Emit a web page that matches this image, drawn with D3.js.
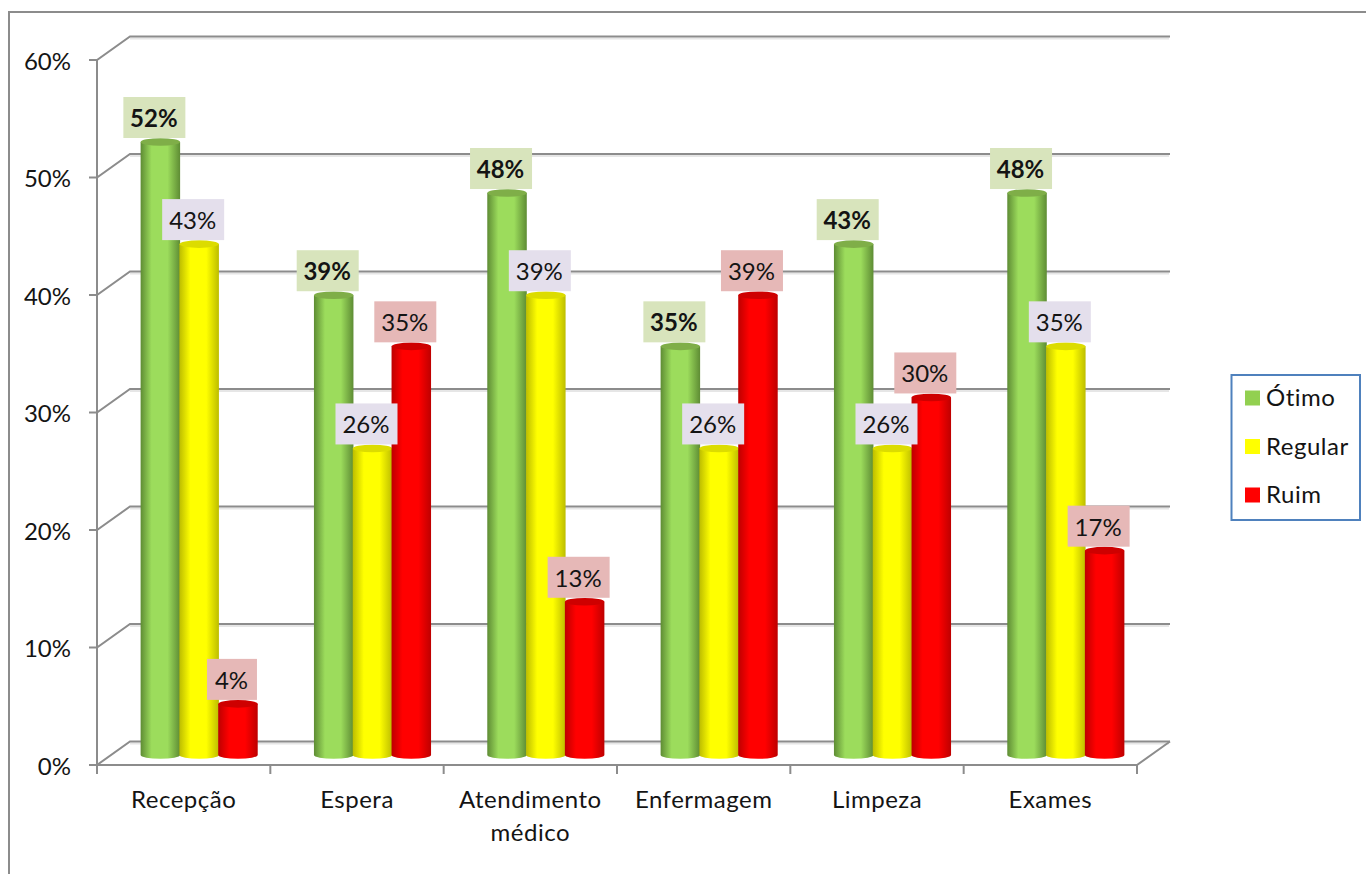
<!DOCTYPE html>
<html><head><meta charset="utf-8">
<script src="https://cdnjs.cloudflare.com/ajax/libs/d3/7.8.5/d3.min.js"></script>
<style>html,body{margin:0;padding:0;background:#fff}svg{display:block}text{font-family:Lato,"Open Sans",sans-serif;fill:#141414}</style>
</head><body><svg id="c" width="1366" height="874"></svg>
<script>
const categories = ["Recepção","Espera","Atendimento médico","Enfermagem","Limpeza","Exames"];
const seriesNames = ["Ótimo","Regular","Ruim"];
const otimo   = [52.17,39.13,47.83,34.78,43.48,47.83];
const regular = [43.48,26.09,39.13,26.09,26.09,34.78];
const ruim    = [4.35,34.78,13.04,39.13,30.43,17.39];
const yTicks  = [0,10,20,30,40,50,60];
const seriesValues = [otimo,regular,ruim];
const swatch = ["#92D050","#FFFF00","#FF0000"];
const edge   = ["#5E8C34","#BDBD00","#BE0000"];
const mid    = ["#9CDC5C","#FFFF00","#FF0000"];
const cap    = ["#7FAE48","#DCDC00","#CE0000"];
const boxFill= ["#D8E4BC","#E4DFEC","#E6B8B7"];

const svg = d3.select("#c");
const font = 24, gray = "#8c8c8c";
const x = d3.scaleBand().domain(categories).range([97,1137]);
const y = d3.scaleLinear().domain([0,60]).range([765,60]);
const dx = 33, dy = -23.5;
const barW = 39.5, ry = 3.8, barBase = 10, barShift = 15.5;

// frame
svg.append("path").attr("d","M9,874V12H1366").attr("fill","none").attr("stroke",gray).attr("stroke-width",2);

// defs
const defs = svg.append("defs");
seriesNames.forEach((s,i)=>{
  const g = defs.append("linearGradient").attr("id","g"+i);
  [[0,edge[i]],[.28,mid[i]],[.68,mid[i]],[1,edge[i]]].forEach(([o,c])=>g.append("stop").attr("offset",o).attr("stop-color",c));
});

// walls
yTicks.forEach(t=>{
  const yy = y(t);
  svg.append("line").attr("x1",x.range()[0]+dx).attr("x2",x.range()[1]+dx-1).attr("y1",yy+dy+2).attr("y2",yy+dy+2).attr("stroke","#e6e6e6").attr("stroke-width",2);
  svg.append("path").attr("d",d3.line()([[x.range()[0]-8,yy],[x.range()[0],yy],[x.range()[0]+dx,yy+dy],[x.range()[1]+dx,yy+dy]]))
    .attr("fill","none").attr("stroke",gray).attr("stroke-width",2);
  svg.append("text").attr("x",71).attr("y",yy+1.5).attr("dy","0.35em").attr("text-anchor","end").attr("font-size",font).text(t+"%");
});
// axes
svg.append("line").attr("x1",97).attr("x2",97).attr("y1",y(60)).attr("y2",773).attr("stroke",gray).attr("stroke-width",2);
svg.append("path").attr("d",d3.line()([[97,765],[1137,765],[1137+dx,765+dy]])).attr("fill","none").attr("stroke",gray).attr("stroke-width",2);
categories.concat(["end"]).forEach((c,i)=>{
  const xx = c==="end"? x.range()[1] : x(c);
  svg.append("line").attr("x1",xx).attr("x2",xx).attr("y1",765).attr("y2",774).attr("stroke",gray).attr("stroke-width",2);
});
// category labels
categories.forEach(c=>{
  const t = svg.append("text").attr("x",x(c)+x.bandwidth()/2).attr("y",808).attr("text-anchor","middle").attr("font-size",font).attr("letter-spacing",0.5);
  const parts = c==="Atendimento médico" ? c.split(" ") : [c];
  parts.forEach((p,i)=>t.append("tspan").attr("x",x(c)+x.bandwidth()/2).attr("dy",i?33:0).text(p));
});
// bars
const bx = (c,i)=>x(c)+x.bandwidth()/2+barShift+(i-1)*38.8;
const by = v=>y(v)-barBase;
const labels = svg.append("g");
categories.forEach((c,ci)=>{
  seriesValues.forEach((vals,si)=>{
    const v = vals[ci], cx = bx(c,si), top = by(v), bot = by(0), r = barW/2;
    svg.append("path").attr("fill",`url(#g${si})`)
      .attr("d",`M${cx-r},${top}V${bot}A${r},${ry} 0 0 0 ${cx+r},${bot}V${top}Z`);
    svg.append("ellipse").attr("cx",cx).attr("cy",top).attr("rx",r).attr("ry",ry).attr("fill",cap[si]);
    const label = Math.round(v)+"%";
    const w = label.length>2?62:50, h=41;
    const lc = cx-6, ly = top-4-h;
    labels.append("rect").attr("x",lc-w/2).attr("y",ly).attr("width",w).attr("height",h).attr("fill",boxFill[si]);
    labels.append("text").attr("x",lc-0.5).attr("y",ly+h/2+1).attr("dy","0.35em").attr("text-anchor","middle")
      .attr("font-size",font).attr("font-weight",si===0?700:400).text(label);
  });
});
labels.raise();
// legend
svg.append("rect").attr("x",1231.5).attr("y",375).attr("width",128.5).attr("height",145).attr("fill","#fff").attr("stroke","#4F81BD").attr("stroke-width",2);
const ly = d3.scalePoint().domain(seriesNames).range([398,495]);
seriesNames.forEach((s,i)=>{
  svg.append("rect").attr("x",1245).attr("y",ly(s)-7.5).attr("width",15).attr("height",15).attr("fill",swatch[i]);
  svg.append("text").attr("x",1266).attr("y",ly(s)).attr("dy","0.35em").attr("font-size",font).attr("letter-spacing",0.5).text(s);
});
</script></body></html>
